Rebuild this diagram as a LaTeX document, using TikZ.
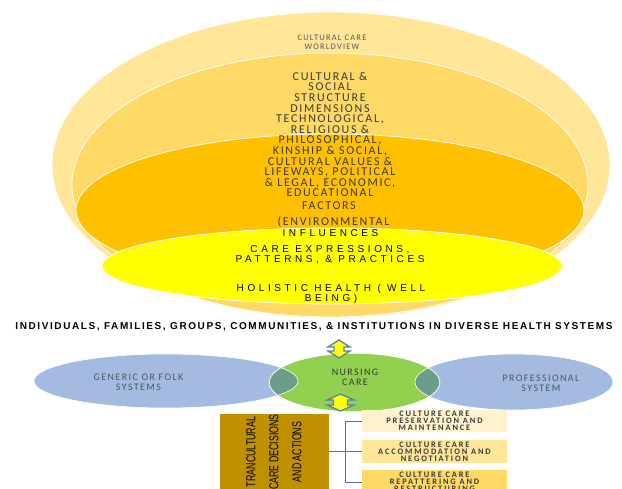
\documentclass[tikz,border=0pt]{standalone}
\usepackage{fontspec}
\usetikzlibrary{shapes.geometric}

\newfontfamily\artfont{Carlito}[LetterSpace=14]
\newfontfamily\boxfont{Carlito}[LetterSpace=22]
\newfontfamily\widefont{Liberation Sans}[LetterSpace=36]
\newfontfamily\rowfont{Liberation Sans}[LetterSpace=16]
\newfontfamily\narrowfont{Liberation Sans}[FakeStretch=0.68]

\definecolor{outerYel}{HTML}{FFE699}
\definecolor{midYel}{HTML}{FFD966}
\definecolor{deepYel}{HTML}{FFC000}
\definecolor{brightYel}{HTML}{FFFF00}
\definecolor{vennBlue}{HTML}{A3BAE1}
\definecolor{vennGreen}{HTML}{92D050}
\definecolor{vennMix}{HTML}{6A9E8A}
\definecolor{brownBox}{HTML}{BF9000}
\definecolor{boxOne}{HTML}{FFF2CC}
\definecolor{boxTwo}{HTML}{FFE699}
\definecolor{boxThree}{HTML}{FFD966}
\definecolor{linkBlue}{HTML}{4F6FAF}
\definecolor{arrowBlue}{HTML}{5B7FB0}
\definecolor{txtGrey}{HTML}{3A3A3A}
\definecolor{vennTxt}{HTML}{4D5666}

\tikzset{
  layer/.style={ellipse, draw=white, line width=0.8pt, inner sep=0pt},
  venn/.style={ellipse, draw=white, line width=0.6pt, inner sep=0pt},
  label/.style={align=center, inner sep=0pt, text=txtGrey},
  carebox/.style={rectangle, inner sep=0pt, minimum width=145pt, text=txtGrey, align=center,
    font=\boxfont\bfseries\fontsize{8.4}{7.2}\selectfont},
  link/.style={draw=linkBlue, line width=0.7pt},
  blockarrow/.style={fill=brightYel, draw=arrowBlue, line width=1.3pt, line join=miter},
}

\begin{document}
\begin{tikzpicture}[x=1pt, y=-1pt]
  \useasboundingbox (0,0) rectangle (622,489);

  % sunrise layers
  \node[layer, fill=outerYel, minimum width=558pt, minimum height=306pt] (worldview) at (331,165) {};
  \node[layer, fill=midYel, minimum width=516pt, minimum height=264pt] (dims) at (330,185) {};
  \node[layer, fill=deepYel, minimum width=508pt, minimum height=152pt] (factors) at (330,210) {};

  \node[label, font=\artfont\fontsize{8.5}{9}\selectfont, text=black!65] (worldviewTxt) at (332,42.5) {CULTURAL CARE\\WORLDVIEW};
  \node[label, font=\artfont\fontsize{12}{10.6}\selectfont] (dimsTxt) at (330,134.5)
    {CULTURAL \&\\SOCIAL\\STRUCTURE\\DIMENSIONS\\TECHNOLOGICAL,\\RELIGIOUS \&\\PHILOSOPHICAL,\\KINSHIP \& SOCIAL,\\CULTURAL VALUES \&\\LIFEWAYS, POLITICAL\\\& LEGAL, ECONOMIC,\\EDUCATIONAL};
  \node[label, font=\artfont\fontsize{12}{10.6}\selectfont] (factorsTxt) at (329,206) {FACTORS};
  \node[label, font=\artfont\fontsize{12}{10.6}\selectfont] (envTxt) at (333.5,222) {(ENVIRONMENTAL};

  \node[layer, fill=brightYel, minimum width=460pt, minimum height=76pt] (health) at (332,266) {};
  \node[label, font=\widefont\fontsize{10}{10}\selectfont, text=black] (inflTxt) at (330.5,233) {INFLUENCES};
  \node[label, font=\widefont\fontsize{10}{10}\selectfont, text=black] (careTxt) at (330,254.5) {CARE EXPRESSIONS,\\PATTERNS, \& PRACTICES};
  \node[label, font=\widefont\fontsize{10}{10}\selectfont, text=black] (healthTxt) at (331,293.5) {HOLISTIC HEALTH ( WELL\\BEING)};

  \node[label, font=\rowfont\bfseries\fontsize{10}{12}\selectfont, text=black] (groups) at (314,327)
    {INDIVIDUALS, FAMILIES, GROUPS, COMMUNITIES, \& INSTITUTIONS IN DIVERSE HEALTH SYSTEMS};

  % care systems
  \node[venn, fill=vennBlue, minimum width=264pt, minimum height=54pt] (folk) at (166,381) {};
  \node[venn, fill=vennBlue, minimum width=198pt, minimum height=56pt] (prof) at (514,382) {};
  \node[venn, fill=vennGreen, minimum width=171pt, minimum height=59pt] (nursing) at (354.5,382.5) {};
  \begin{scope}
    \clip (354.5,382.5) ellipse (85.5pt and 29.5pt);
    \fill[vennMix] (166,381) ellipse (132pt and 27pt);
    \fill[vennMix] (514,382) ellipse (99pt and 28pt);
    \draw[white, line width=0.6pt] (166,381) ellipse (132pt and 27pt);
    \draw[white, line width=0.6pt] (514,382) ellipse (99pt and 28pt);
    \draw[white, line width=1.2pt] (354.5,382.5) ellipse (85.5pt and 29.5pt);
  \end{scope}

  \node[label, font=\artfont\fontsize{10}{10}\selectfont, text=vennTxt] (folkTxt) at (138.5,382) {GENERIC OR FOLK\\SYSTEMS};
  \node[label, font=\artfont\fontsize{10}{10}\selectfont] (nursingTxt) at (355,377) {NURSING\\CARE};
  \node[label, font=\artfont\fontsize{10}{10}\selectfont, text=vennTxt] (profTxt) at (541,383.5) {PROFESSIONAL\\SYSTEM};

  % up-down arrows
  \draw[blockarrow] (339,340) -- (350,347) -- (344,347) -- (344,351) -- (350,351) -- (339,358)
    -- (328,351) -- (334,351) -- (334,347) -- (328,347) -- cycle;
  \draw[blockarrow] (340.5,394) -- (354,400) -- (347.5,400) -- (347.5,405) -- (354,405) -- (340.5,411)
    -- (327,405) -- (333.5,405) -- (333.5,400) -- (327,400) -- cycle;

  % decisions and actions
  \node[rectangle, fill=brownBox, minimum width=109pt, minimum height=78pt, inner sep=0pt] (decide) at (274.5,453) {};
  \node[rotate=90, align=center, inner sep=0pt, text=black, font=\narrowfont\fontsize{13}{23}\selectfont] (decideTxt) at (274,452)
    {TRANCULTURAL\\CARE DECISIONS\\AND ACTIONS};

  \node[carebox, fill=boxOne, minimum height=22pt] (keep) at (434.5,421) {CULTURE CARE\\PRESERVATION AND\\MAINTENANCE};
  \node[carebox, fill=boxTwo, minimum height=23pt] (adapt) at (434.5,451.5) {CULTURE CARE\\ACCOMMODATION AND\\NEGOTIATION};
  \node[carebox, fill=boxThree, minimum height=24pt] (repattern) at (434.5,482) {CULTURE CARE\\REPATTERING AND\\RESTRUCTURING};

  \coordinate (fork) at (345,451.5);
  \draw[link] (decide.east |- adapt) -- (adapt.west);
  \draw[link] (fork |- keep) -- (fork |- repattern);
  \draw[link] (fork |- keep) -- (keep.west);
  \draw[link] (fork |- repattern) -- (repattern.west);
\end{tikzpicture}
\end{document}
